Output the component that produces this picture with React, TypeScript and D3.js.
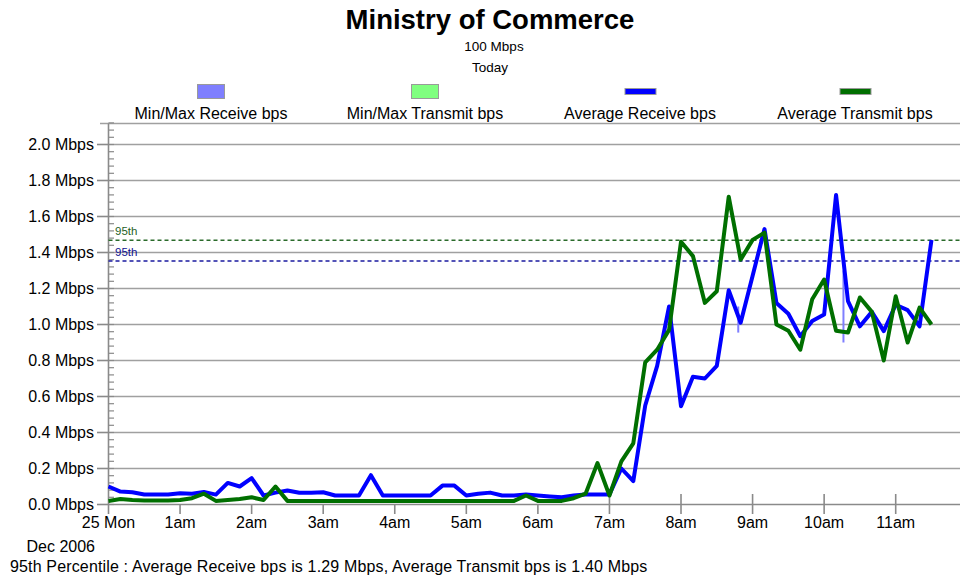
import React from 'react';
import * as d3 from 'd3';

const title = 'Ministry of Commerce';
const subtitleSpeed = '100 Mbps';
const subtitlePeriod = 'Today';
const legendLabels = ['Min/Max Receive bps', 'Min/Max Transmit bps', 'Average Receive bps', 'Average Transmit bps'];
const legendColors = ['#7f7fff', '#80ff80', '#0000ff', '#006f00'];
const hourLabels = ['25 Mon', '1am', '2am', '3am', '4am', '5am', '6am', '7am', '8am', '9am', '10am', '11am'];
const yTicks = [0, 0.2, 0.4, 0.6, 0.8, 1.0, 1.2, 1.4, 1.6, 1.8, 2.0];
const dateLabel = 'Dec 2006';
const footer = '95th Percentile : Average Receive bps is 1.29 Mbps, Average Transmit bps is 1.40 Mbps';
const sampleMinutes = 10;

// Average receive (Mbps), one value every 10 minutes from 00:00
const receive = [
  0.10, 0.072, 0.068, 0.056, 0.055, 0.055,
  0.062, 0.06, 0.07, 0.055, 0.12, 0.10,
  0.147, 0.05, 0.066, 0.078, 0.065, 0.065,
  0.068, 0.05, 0.05, 0.05, 0.163, 0.05,
  0.05, 0.05, 0.05, 0.05, 0.105, 0.105,
  0.05, 0.06, 0.066, 0.05, 0.05, 0.055,
  0.05, 0.045, 0.04, 0.05, 0.055, 0.055,
  0.056, 0.2, 0.13, 0.55, 0.77, 1.10,
  0.546, 0.71, 0.70, 0.77, 1.19, 1.01,
  1.27, 1.53, 1.12, 1.06, 0.935, 1.02,
  1.055, 1.72, 1.13, 0.99, 1.07, 0.963,
  1.11, 1.08, 0.99, 1.47,
];

// Average transmit (Mbps)
const transmit = [
  0.02, 0.03, 0.025, 0.022, 0.022, 0.022,
  0.025, 0.035, 0.06, 0.02, 0.025, 0.03,
  0.04, 0.025, 0.10, 0.02, 0.02, 0.02,
  0.02, 0.02, 0.02, 0.02, 0.02, 0.02,
  0.02, 0.02, 0.02, 0.02, 0.02, 0.02,
  0.02, 0.02, 0.02, 0.02, 0.02, 0.05,
  0.02, 0.02, 0.02, 0.035, 0.06, 0.23,
  0.05, 0.24, 0.34, 0.79, 0.86, 0.97,
  1.46, 1.38, 1.12, 1.185, 1.71, 1.36,
  1.47, 1.51, 1.0, 0.965, 0.86, 1.14,
  1.25, 0.965, 0.955, 1.15, 1.07, 0.80,
  1.157, 0.90, 1.094, 1.0,
];

// Min/Max receive ranges that show beyond the average line
const rangeHours = [8.8, 10.27];
const rangeMin = [0.955, 0.9];
const rangeMax = [1.1, 1.3];

const pct95Receive = 1.29;
const pct95Transmit = 1.40;
const mebiFactor = 1.048576;

const FONT = '"Liberation Sans", Arial, Helvetica, sans-serif';

export default function App() {
  const W = 960;
  const H = 580;
  const x = d3.scaleLinear().domain([0, 11]).range([108.5, 895.7]);
  const y = d3.scaleLinear().domain([0, 2]).range([504.5, 144.5]);
  const plotRight = 960;
  const plotTop = 123.5;

  const line = d3
    .line<number>()
    .x((_, i) => x((i * sampleMinutes) / 60))
    .y((d) => y(d))
    .curve(d3.curveLinear);

  const minorTicks = d3.range(0, 2.13, 0.04);
  const legendCenters = [211, 425, 640, 855];

  return (
    <svg
      width={W}
      height={H}
      style={{ position: 'absolute', left: 0, top: 0, background: '#fff' }}
      fontFamily={FONT}
    >
      <rect x={0} y={0} width={W} height={H} fill="#fff" />
      {/* Titles */}
      <text x={490} y={29} textAnchor="middle" fontWeight="bold" fontSize={27.5}>
        {title}
      </text>
      <text x={494} y={51} textAnchor="middle" fontSize={13.5}>
        {subtitleSpeed}
      </text>
      <text x={490} y={72} textAnchor="middle" fontSize={13.5}>
        {subtitlePeriod}
      </text>

      {/* Legend */}
      {legendLabels.map((lab, i) => {
        const cx = legendCenters[i];
        const isBox = i < 2;
        return (
          <g key={lab}>
            {isBox ? (
              <rect x={cx - 13.5} y={84.5} width={27} height={14} fill={legendColors[i]} stroke="#9a9a9a" strokeWidth={1} />
            ) : (
              <rect x={cx - 15} y={88.5} width={31} height={6} fill={legendColors[i]} stroke="#9a9a9a" strokeWidth={1} />
            )}
            <text x={cx} y={118.5} textAnchor="middle" fontSize={16}>
              {lab}
            </text>
          </g>
        );
      })}

      {/* plot top border */}
      <line x1={100} x2={plotRight} y1={plotTop} y2={plotTop} stroke="#a0a0a0" strokeWidth={1.5} />

      {/* Gridlines */}
      {yTicks.slice(1).map((v) => (
        <line key={'g' + v} x1={108} x2={plotRight} y1={y(v)} y2={y(v)} stroke="#a0a0a0" strokeWidth={1.6} />
      ))}

      {/* Y axis */}
      <line x1={108.5} x2={108.5} y1={plotTop} y2={505} stroke="#8a8a8a" strokeWidth={1.6} />
      {minorTicks.map((v) => (
        <line key={'m' + v} x1={108.5} x2={114} y1={y(v)} y2={y(v)} stroke="#8a8a8a" strokeWidth={1.2} />
      ))}
      {yTicks.map((v) => (
        <g key={'t' + v}>
          <line x1={97} x2={108.5} y1={y(v)} y2={y(v)} stroke="#8a8a8a" strokeWidth={1.6} />
          <text x={94} y={y(v)} dy="0.35em" textAnchor="end" fontSize={16}>
            {v.toFixed(1) + ' Mbps'}
          </text>
        </g>
      ))}

      {/* X axis */}
      <line x1={108.5} x2={plotRight} y1={504.5} y2={504.5} stroke="#8a8a8a" strokeWidth={1.6} />
      {hourLabels.map((lab, h) => (
        <g key={lab}>
          <line x1={x(h)} x2={x(h)} y1={h >= 7 ? 494 : 504.5} y2={514} stroke="#8a8a8a" strokeWidth={1.6} />
          <text x={x(h)} y={527.5} textAnchor="middle" fontSize={16}>
            {lab}
          </text>
        </g>
      ))}
      <text x={95} y={551.5} textAnchor="end" fontSize={16}>
        {dateLabel}
      </text>
      <text x={10} y={571.5} fontSize={16} letterSpacing={0.15}>
        {footer}
      </text>

      {/* 95th percentile lines */}
      <line x1={108.5} x2={plotRight} y1={y(pct95Transmit * mebiFactor)} y2={y(pct95Transmit * mebiFactor)} stroke="#2a6a2a" strokeWidth={1.3} strokeDasharray="4,3" />
      <line x1={108.5} x2={plotRight} y1={y(pct95Receive * mebiFactor)} y2={y(pct95Receive * mebiFactor)} stroke="#1a1aa0" strokeWidth={1.3} strokeDasharray="4,3" />
      <text x={115} y={y(pct95Transmit * mebiFactor) - 5} fontSize={11.5} fill="#1f5f1f">
        95th
      </text>
      <text x={115} y={y(pct95Receive * mebiFactor) - 5} fontSize={11.5} fill="#10108f">
        95th
      </text>

      {/* Min/Max receive ranges */}
      {rangeHours.map((h, i) => (
        <line key={'r' + i} x1={x(h)} x2={x(h)} y1={y(rangeMin[i])} y2={y(rangeMax[i])} stroke="#7f7fff" strokeWidth={2} />
      ))}

      {/* Series */}
      <path d={line(receive) || ''} fill="none" stroke="#0000ff" strokeWidth={4} strokeLinejoin="round" />
      <path d={line(transmit) || ''} fill="none" stroke="#006f00" strokeWidth={4} strokeLinejoin="round" />
    </svg>
  );
}
